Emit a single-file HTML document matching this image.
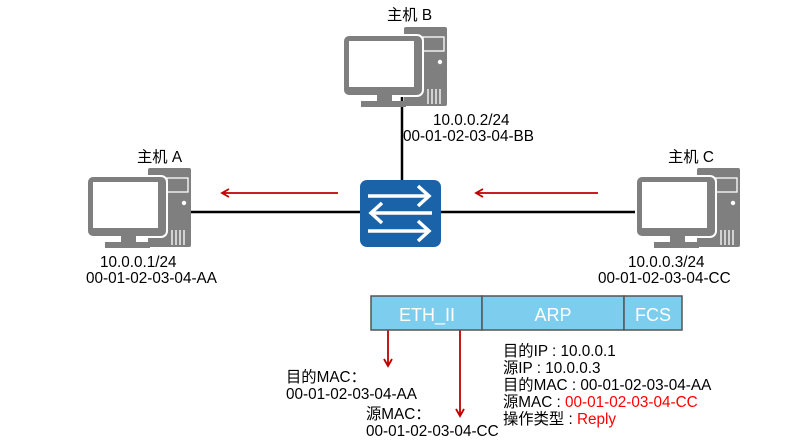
<!DOCTYPE html>
<html><head><meta charset="utf-8"><style>
body{margin:0;background:#fff}
svg{display:block}
text{font-family:"Liberation Sans","Noto Sans CJK SC",sans-serif;font-size:15.3px;fill:#000}
</style></head><body>
<svg width="795" height="448" viewBox="0 0 795 448" xmlns="http://www.w3.org/2000/svg">
<defs>
<g id="pc">
 <rect x="62" y="2" width="43" height="79" rx="2" fill="#7f7f7f"/>
 <rect x="81" y="12" width="21" height="14" fill="none" stroke="#fff" stroke-width="1.3"/>
 <circle cx="98" cy="37" r="2.2" fill="#fff"/>
 <g stroke="#fff" stroke-width="1.3"><line x1="86" y1="64" x2="86" y2="79"/><line x1="90" y1="64" x2="90" y2="79"/><line x1="94" y1="64" x2="94" y2="79"/><line x1="98" y1="64" x2="98" y2="79"/></g>
 <rect x="1" y="10" width="80" height="61" rx="6" fill="#7f7f7f" stroke="#fff" stroke-width="2"/>
 <rect x="7" y="16" width="65" height="46" fill="#fff"/>
 <rect x="35" y="70" width="15" height="7" fill="#7f7f7f"/>
 <rect x="19" y="76" width="45" height="6" fill="#7f7f7f"/>
</g>
<marker id="ar" markerWidth="10" markerHeight="10" refX="8" refY="5" orient="auto" markerUnits="userSpaceOnUse"><path d="M1,1 L8,5 L1,9" fill="none" stroke="#c00000" stroke-width="1.8"/></marker>
</defs>
<g stroke="#000" stroke-width="2.5">
 <line x1="185" y1="212" x2="362" y2="212"/>
 <line x1="438" y1="212" x2="640" y2="212"/>
 <line x1="402" y1="95" x2="402" y2="182"/>
</g>
<use href="#pc" x="342" y="25"/>
<use href="#pc" x="86" y="166"/>
<use href="#pc" x="635" y="166"/>
<rect x="360" y="180" width="81" height="67" rx="7" fill="#1a63a8"/>
<g stroke="#fff" stroke-width="3.5" fill="none">
 <line x1="368" y1="196" x2="428" y2="196"/><polyline points="418,186 429,196 418,206"/>
 <line x1="372" y1="213" x2="432" y2="213"/><polyline points="382,203 371,213 382,223"/>
 <line x1="368" y1="231" x2="428" y2="231"/><polyline points="418,221 429,231 418,241"/>
</g>
<g stroke="#c00000" stroke-width="1.8" fill="none" marker-end="url(#ar)">
 <line x1="338" y1="193" x2="222" y2="193"/>
 <line x1="598" y1="193" x2="476" y2="193"/>
 <line x1="388" y1="330" x2="388" y2="366"/>
 <line x1="460" y1="330" x2="460" y2="416"/>
</g>
<g stroke="#555" stroke-width="1.5" fill="#7dcdee">
 <rect x="371" y="296" width="111" height="34"/>
 <rect x="482" y="296" width="142" height="34"/>
 <rect x="624" y="296" width="58" height="34"/>
</g>
<text x="427" y="321" text-anchor="middle" style="font-size:18px;fill:#fff">ETH_II</text>
<text x="553" y="321" text-anchor="middle" style="font-size:18px;fill:#fff">ARP</text>
<text x="653" y="321" text-anchor="middle" style="font-size:18px;fill:#fff">FCS</text>
<text x="387" y="20">主机 B</text>
<text x="433" y="125">10.0.0.2/24</text>
<text x="403" y="141">00-01-02-03-04-BB</text>
<text x="137" y="162">主机 A</text>
<text x="100" y="267">10.0.0.1/24</text>
<text x="86" y="283">00-01-02-03-04-AA</text>
<text x="668" y="162">主机 C</text>
<text x="628" y="267">10.0.0.3/24</text>
<text x="598" y="283">00-01-02-03-04-CC</text>
<text x="286" y="382">目的MAC：</text>
<text x="286" y="399">00-01-02-03-04-AA</text>
<text x="366" y="419">源MAC：</text>
<text x="366" y="436">00-01-02-03-04-CC</text>
<text x="503" y="356">目的IP : 10.0.0.1</text>
<text x="503" y="373">源IP : 10.0.0.3</text>
<text x="503" y="390">目的MAC : 00-01-02-03-04-AA</text>
<text x="503" y="407">源MAC : <tspan style="fill:#ff0000">00-01-02-03-04-CC</tspan></text>
<text x="503" y="424">操作类型 : <tspan style="fill:#ff0000">Reply</tspan></text>
</svg>
</body></html>
